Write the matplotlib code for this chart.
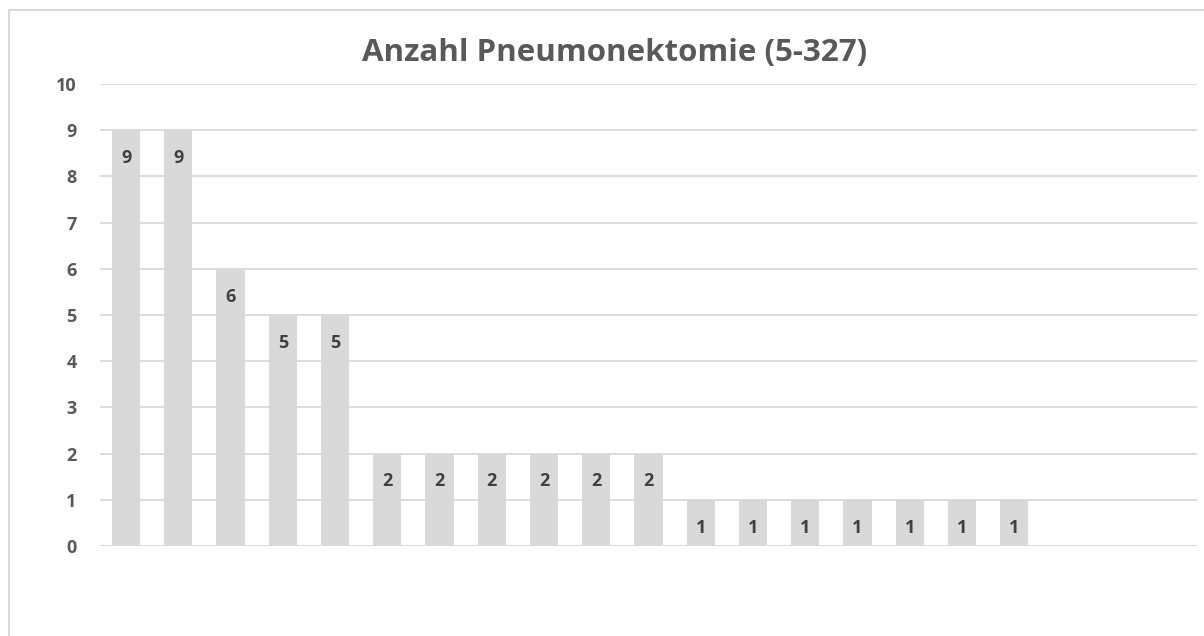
import matplotlib
matplotlib.use("Agg")
import matplotlib.pyplot as plt
from matplotlib.patches import Rectangle

title = "Anzahl Pneumonektomie (5-327)"
categories = [f"K{i}" for i in range(1, 22)]
values = [9, 9, 6, 5, 5, 2, 2, 2, 2, 2, 2, 1, 1, 1, 1, 1, 1, 1, None, None, None]
yticks = list(range(0, 11))

plt.rcParams['font.family'] = ['Open Sans', 'DejaVu Sans']

fig = plt.figure(figsize=(12.04, 6.36), dpi=100)
W, H = 1204, 636
ax = fig.add_axes([100 / W, 1 - 546 / H, (1197 - 100) / W, (546 - 84) / H])

xs = list(range(len(categories)))
bar_x = [x for x, v in zip(xs, values) if v is not None]
bar_v = [v for v in values if v is not None]
ax.bar(bar_x, bar_v, width=0.54, color="#D9D9D9", zorder=2)
for x, v in zip(bar_x, bar_v):
    ax.annotate(str(v), (x, v), xytext=(0, -20), textcoords="offset points",
                ha="center", va="center", fontsize=13, fontweight="bold",
                color="#404040", zorder=3)

ax.set_xlim(-0.5, len(categories) - 0.5)
ax.set_ylim(0, 10)
ax.set_yticks(yticks)
ax.set_yticklabels([str(t) for t in yticks], fontsize=13, fontweight="bold", color="#595959")
ax.set_xticks([])
ax.tick_params(axis="y", length=0, pad=17)
ax.yaxis.grid(True, color="#D9D9D9", lw=1.3, zorder=1)
ax.set_axisbelow(True)
for s in ax.spines.values():
    s.set_visible(False)
ax.axhline(0, color="#D9D9D9", lw=1.3, zorder=1)

fig.text(614.5 / W, 1 - 53 / H, title, ha="center", va="center",
         fontsize=22.5, fontweight="bold", color="#595959")

fig.patches.append(Rectangle((9 / W, -0.1), 1.2, 1 - 10 / H + 0.1, transform=fig.transFigure,
                             fill=False, edgecolor="#D9D9D9", lw=1.5))

fig.savefig("out.png", dpi=100)
